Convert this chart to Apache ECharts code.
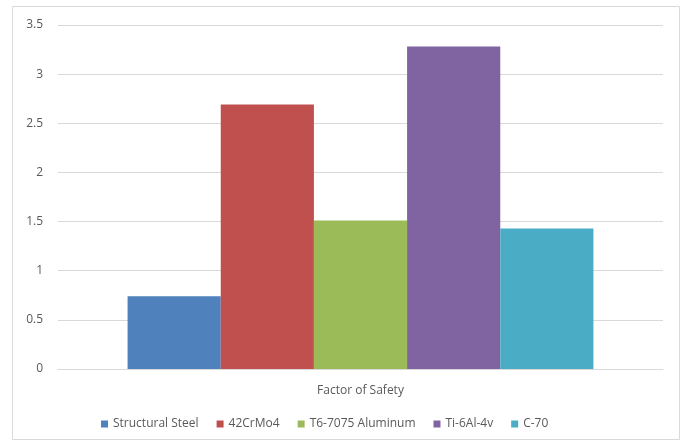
<!DOCTYPE html>
<html><head><meta charset="utf-8">
<script src="https://cdn.jsdelivr.net/npm/echarts@6/dist/echarts.min.js"></script>
<style>html,body{margin:0;padding:0;background:#fff}#c{width:683px;height:443px}</style>
</head><body><div id="c"></div>
<script>
const categories = ['Factor of Safety'];
const seriesNames = ['Structural Steel', '42CrMo4', 'T6-7075 Aluminum', 'Ti-6Al-4v', 'C-70'];
const seriesValues = [[0.74], [2.69], [1.51], [3.28], [1.43]];
const colors = ['#4f81bd', '#c0504d', '#9bbb59', '#8064a2', '#4bacc6'];
const yTicks = [0, 0.5, 1, 1.5, 2, 2.5, 3, 3.5];

const chart = echarts.init(document.getElementById('c'));
const font = 'Open Sans, Liberation Sans, sans-serif';
chart.setOption({
  animation: false,
  color: colors,
  graphic: [{type:'rect', shape:{x:12.5,y:6.5,width:667,height:433}, style:{fill:'none', stroke:'#d9d9d9', lineWidth:1}, silent:true}],
  grid: {left: 58, right: 20, top: 25, bottom: 74},
  legend: {
    bottom: 8, left: 96, itemWidth: 7, itemHeight: 7, itemGap: 18,
    icon: 'rect',
    textStyle: {color: '#595959', fontSize: 12, fontFamily: font},
    data: seriesNames
  },
  xAxis: {
    type: 'category', data: categories,
    axisLine: {lineStyle: {color: '#d9d9d9'}},
    axisTick: {show: false},
    axisLabel: {color: '#595959', fontSize: 12, fontFamily: font, margin: 16}
  },
  yAxis: {
    type: 'value', min: yTicks[0], max: yTicks[yTicks.length-1], interval: 0.5,
    axisLine: {show: false}, axisTick: {show: false},
    splitLine: {lineStyle: {color: '#d9d9d9'}},
    axisLabel: {color: '#595959', fontSize: 12, fontFamily: font, margin: 15}
  },
  series: seriesNames.map((n, i) => ({
    name: n, type: 'bar', data: seriesValues[i],
    barGap: '0%', barCategoryGap: '23%'
  }))
});
</script></body></html>
